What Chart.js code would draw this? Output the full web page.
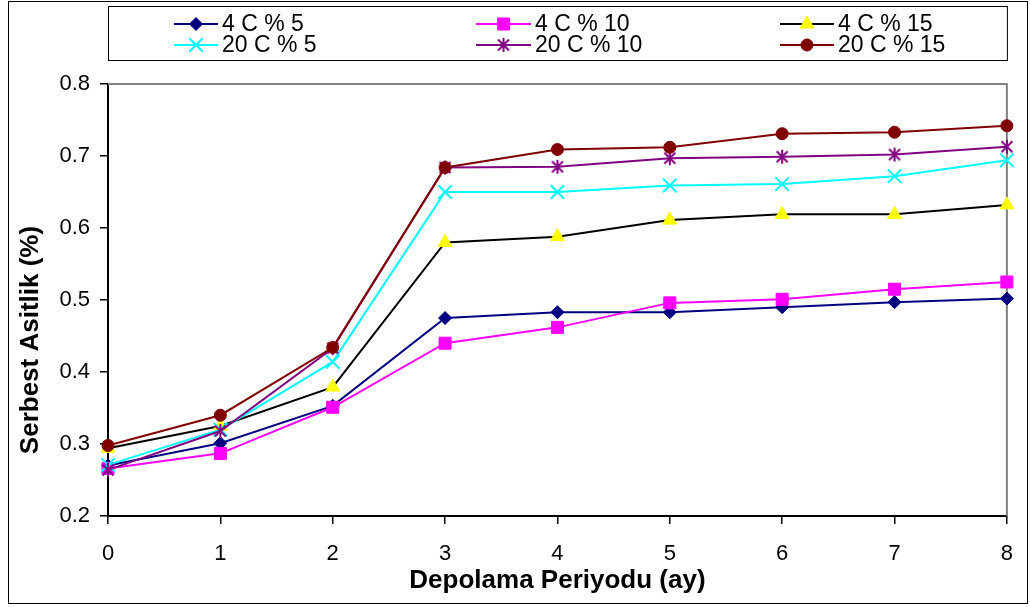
<!DOCTYPE html>
<html>
<head>
<meta charset="utf-8">
<script src="https://cdn.jsdelivr.net/npm/chart.js@4.4.1/dist/chart.umd.min.js"></script>
<style>
  html, body { margin: 0; padding: 0; background: #ffffff; }
  #wrap { width: 1030px; height: 607px; position: relative; }
</style>
</head>
<body>
<div id="wrap"><canvas id="c" width="1030" height="607"></canvas></div>
<script>
// Storage period (months) on the x axis
const months = ['0', '1', '2', '3', '4', '5', '6', '7', '8'];
const yTickValues = [0.2, 0.3, 0.4, 0.5, 0.6, 0.7, 0.8];

const seriesNames = ['4 C % 5', '4 C % 10', '4 C % 15', '20 C % 5', '20 C % 10', '20 C % 15'];

// Free acidity (%) per storage temperature / concentration
const acid4c5   = [0.270, 0.301, 0.353, 0.475, 0.483, 0.483, 0.490, 0.497, 0.502];
const acid4c10  = [0.266, 0.287, 0.351, 0.440, 0.462, 0.496, 0.501, 0.515, 0.525];
const acid4c15  = [0.294, 0.325, 0.379, 0.580, 0.588, 0.611, 0.619, 0.619, 0.632];
const acid20c5  = [0.271, 0.320, 0.414, 0.650, 0.650, 0.659, 0.661, 0.672, 0.694];
const acid20c10 = [0.264, 0.318, 0.433, 0.684, 0.685, 0.697, 0.699, 0.702, 0.713];
const acid20c15 = [0.298, 0.340, 0.434, 0.684, 0.709, 0.712, 0.731, 0.733, 0.742];

const xTitle = 'Depolama Periyodu (ay)';
const yTitle = 'Serbest Asitlik (%)';

const FONT = '"Liberation Sans", Arial, Helvetica, sans-serif';

// Asterisk marker: an X with a vertical stroke
function asteriskMarker(color) {
  const cv = document.createElement('canvas');
  cv.width = 16; cv.height = 16;
  const g = cv.getContext('2d');
  g.strokeStyle = color; g.lineWidth = 2; g.lineCap = 'butt';
  g.beginPath();
  g.moveTo(2.5, 2.5); g.lineTo(13.5, 13.5);
  g.moveTo(13.5, 2.5); g.lineTo(2.5, 13.5);
  g.moveTo(8, 1); g.lineTo(8, 15);
  g.stroke();
  return cv;
}

function series(idx, data, lineColor, style, fillColor, strokeColor, radius, pbw) {
  return {
    label: seriesNames[idx],
    data: data,
    borderColor: lineColor,
    borderWidth: 2,
    pointStyle: style,
    pointRadius: radius,
    pointHoverRadius: radius,
    pointBackgroundColor: fillColor,
    pointBorderColor: strokeColor,
    pointBorderWidth: pbw,
    tension: 0,
    fill: false,
    clip: false,
    order: 5 - idx
  };
}

const datasets = [
  series(0, acid4c5,   '#000080', 'rectRot',  '#000080', '#000080', 6.5, 1),
  series(1, acid4c10,  '#FF00FF', 'rect',     '#FF00FF', '#FF00FF', 8.5, 1),
  series(2, acid4c15,  '#000000', 'triangle', '#FFFF00', '#FFFF00', 8,   1),
  series(3, acid20c5,  '#00FFFF', 'crossRot', '#00FFFF', '#00FFFF', 9.5, 2),
  series(4, acid20c10, '#800080', asteriskMarker('#800080'), '#800080', '#800080', 8, 2),
  series(5, acid20c15, '#800000', 'circle',   '#800000', '#800000', 6, 1)
];

// Legend layout: line start / text start per column, row centres
const legendLineStart = [174, 476, 780];
const legendTextStart = [222, 535, 838];
const legendRows = [24, 45];

// Frame, plot border, legend box and vertical axis title
const chartFrame = {
  id: 'chartFrame',
  beforeDraw(chart) {
    const ctx = chart.ctx;
    ctx.save();
    ctx.fillStyle = '#ffffff';
    ctx.fillRect(0, 0, chart.width, chart.height);
    ctx.restore();
  },
  beforeDatasetsDraw(chart) {
    const { ctx, chartArea: a } = chart;
    ctx.save();
    ctx.strokeStyle = '#808080';
    ctx.lineWidth = 2;
    ctx.beginPath();
    ctx.moveTo(a.left, a.top);
    ctx.lineTo(a.right, a.top);
    ctx.lineTo(a.right, a.bottom);
    ctx.stroke();
    ctx.restore();
  },
  afterDraw(chart) {
    const { ctx, chartArea: a } = chart;
    ctx.save();
    // outer frame
    ctx.strokeStyle = '#000000';
    ctx.lineWidth = 1;
    ctx.strokeRect(8.5, 1.5, 1019, 602);

    // legend box
    ctx.strokeRect(108.5, 6.5, a.right - 108, 54);

    ctx.font = '23px ' + FONT;
    ctx.textBaseline = 'middle';
    ctx.textAlign = 'left';
    chart.data.datasets.forEach((ds, i) => {
      const col = i % 3;
      const x0 = legendLineStart[col];
      const x1 = legendTextStart[col] - 4;
      const y0 = legendRows[Math.floor(i / 3)];
      ctx.strokeStyle = ds.borderColor;
      ctx.lineWidth = ds.borderWidth;
      ctx.beginPath();
      ctx.moveTo(x0, y0);
      ctx.lineTo(x1, y0);
      ctx.stroke();
      ctx.fillStyle = ds.pointBackgroundColor;
      ctx.strokeStyle = ds.pointBorderColor;
      ctx.lineWidth = ds.pointBorderWidth;
      Chart.helpers.drawPoint(ctx, {
        pointStyle: ds.pointStyle,
        radius: ds.pointRadius,
        borderWidth: ds.pointBorderWidth,
        rotation: 0
      }, (x0 + x1) / 2, y0);
      ctx.fillStyle = '#000000';
      ctx.fillText(ds.label, legendTextStart[col], y0 + 1);
    });

    // y axis title
    ctx.translate(31, 340);
    ctx.rotate(-Math.PI / 2);
    ctx.font = 'bold 26px ' + FONT;
    ctx.textAlign = 'center';
    ctx.textBaseline = 'middle';
    ctx.fillStyle = '#000000';
    ctx.fillText(yTitle, 0, 0);
    ctx.restore();
  }
};

new Chart(document.getElementById('c'), {
  type: 'line',
  data: { labels: months, datasets: datasets },
  options: {
    responsive: false,
    animation: false,
    devicePixelRatio: 1,
    layout: { padding: { left: 0, right: 22, top: 84, bottom: 0 } },
    plugins: {
      legend: { display: false },
      tooltip: { enabled: false }
    },
    scales: {
      x: {
        type: 'category',
        offset: false,
        afterFit(scale) { scale.height = 91; },
        grid: {
          display: true, drawOnChartArea: false, drawTicks: true,
          tickLength: 8, color: '#000000', lineWidth: 1.5
        },
        border: { display: true, color: '#000000', width: 2 },
        ticks: {
          color: '#000000', font: { family: FONT, size: 22 },
          padding: 17, maxRotation: 0, autoSkip: false
        },
        title: {
          display: true, text: xTitle, color: '#000000',
          font: { family: FONT, size: 26, weight: 'bold' },
          padding: { top: 0, bottom: 11 }
        }
      },
      y: {
        min: 0.2,
        max: 0.8,
        afterFit(scale) { scale.width = 108; },
        afterBuildTicks(scale) { scale.ticks = yTickValues.map(v => ({ value: v })); },
        grid: {
          display: true, drawOnChartArea: false, drawTicks: true,
          tickLength: 8, color: '#000000', lineWidth: 1.5
        },
        border: { display: true, color: '#000000', width: 2 },
        ticks: {
          color: '#000000', font: { family: FONT, size: 22 },
          padding: 10,
          callback: (v) => Number(v).toFixed(1)
        }
      }
    }
  },
  plugins: [chartFrame]
});
</script>
</body>
</html>
